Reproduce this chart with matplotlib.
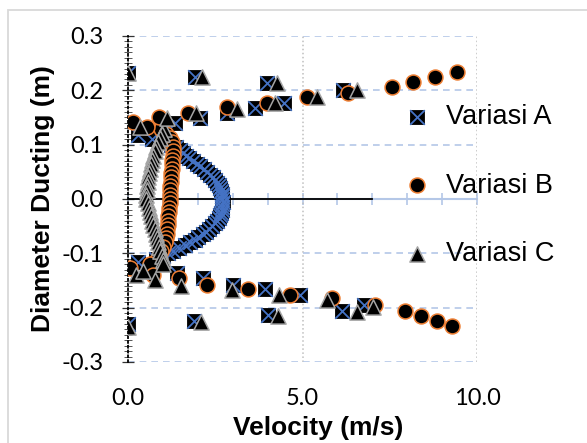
import matplotlib.pyplot as plt
from matplotlib.patches import Rectangle

plt.rcParams['axes.unicode_minus'] = False

# Variasi A - velocity profile (arc) and outer points
a_arc_dia = [0.110, 0.105, 0.100, 0.095, 0.090, 0.085, 0.080, 0.075, 0.070, 0.065,
             0.060, 0.055, 0.050, 0.045, 0.040, 0.035, 0.030, 0.025, 0.020, 0.015,
             0.010, 0.005, 0.000, -0.005, -0.010, -0.015, -0.020, -0.025, -0.030,
             -0.035, -0.040, -0.045, -0.050, -0.055, -0.060, -0.065, -0.070, -0.075,
             -0.080, -0.085, -0.090, -0.095, -0.100, -0.105, -0.110]
a_arc_vel = [0.70, 1.00, 1.22, 1.38, 1.48, 1.58, 1.66, 1.76, 1.86, 1.97,
             2.07, 2.17, 2.26, 2.35, 2.43, 2.50, 2.56, 2.61, 2.64, 2.67,
             2.69, 2.70, 2.70, 2.71, 2.70, 2.69, 2.68, 2.66, 2.64,
             2.60, 2.55, 2.48, 2.41, 2.33, 2.24, 2.14, 2.02, 1.91,
             1.78, 1.62, 1.46, 1.30, 1.15, 1.00, 0.80]
a_out_vel = [0.00, 1.92, 3.98, 6.16, 0.29, 1.35, 2.06, 2.83, 3.64, 4.47,
             0.00, 1.89, 4.01, 6.13, 0.29, 1.40, 2.15, 3.01, 3.93, 4.93, 6.76]
a_out_dia = [0.232, 0.225, 0.214, 0.200, 0.118, 0.140, 0.149, 0.158, 0.168, 0.177,
             -0.230, -0.225, -0.214, -0.206, -0.116, -0.136, -0.145, -0.158, -0.166,
             -0.177, -0.195]

# Variasi B
b_arc_dia = [0.128, 0.120, 0.112, 0.104, 0.096, 0.088, 0.080, 0.072, 0.064, 0.056,
             0.048, 0.040, 0.032, 0.024, 0.016, 0.008, 0.000, -0.008, -0.016, -0.024,
             -0.032, -0.040, -0.048, -0.056, -0.064, -0.072, -0.080, -0.088, -0.096,
             -0.104, -0.112, -0.120]
b_arc_vel = [0.95, 1.10, 1.20, 1.26, 1.29, 1.29, 1.28, 1.27, 1.26, 1.25,
             1.24, 1.23, 1.22, 1.21, 1.21, 1.20, 1.20, 1.19, 1.18, 1.17,
             1.16, 1.15, 1.14, 1.13, 1.12, 1.10, 1.05, 0.99, 0.94,
             0.90, 0.83, 0.63]
b_out_vel = [0.15, 0.55, 0.89, 1.72, 2.83, 3.98, 5.13, 6.30, 7.56, 8.17, 8.80, 9.43,
             0.06, 0.72, 1.46, 2.26, 3.44, 4.64, 5.85, 7.08, 7.94, 8.40, 8.85, 9.28]
b_out_dia = [0.141, 0.132, 0.151, 0.159, 0.169, 0.177, 0.188, 0.195, 0.206, 0.216,
             0.225, 0.234, -0.127, -0.139, -0.145, -0.158, -0.166, -0.177, -0.183,
             -0.195, -0.206, -0.215, -0.225, -0.234]

# Variasi C
c_arc_dia = b_arc_dia
c_arc_vel = [1.02, 0.98, 0.92, 0.86, 0.81, 0.76, 0.72, 0.68, 0.65, 0.62,
             0.60, 0.58, 0.56, 0.55, 0.54, 0.53, 0.53, 0.56, 0.60, 0.64,
             0.67, 0.70, 0.73, 0.76, 0.79, 0.82, 0.85, 0.88, 0.93,
             0.97, 0.99, 1.00]
c_out_vel = [0.00, 2.12, 4.27, 6.56, 0.34, 1.11, 1.95, 3.12, 4.21, 5.41,
             0.00, 2.09, 4.30, 6.56, 0.23, 0.43, 0.77, 1.52, 2.98, 4.33, 5.70, 7.02]
c_out_dia = [0.232, 0.225, 0.214, 0.200, 0.133, 0.149, 0.158, 0.166, 0.177, 0.188,
             -0.235, -0.227, -0.215, -0.208, -0.140, -0.133, -0.149, -0.160, -0.168,
             -0.177, -0.186, -0.198]

center_vel = [0.0, 7.0]
center_dia = [0.0, 0.0]

series_names = ["Variasi A", "Variasi B", "Variasi C"]
x_ticks = [0, 5, 10]
x_tick_labels = ["0.0", "5.0", "10.0"]
y_ticks = [-0.3, -0.2, -0.1, 0.0, 0.1, 0.2, 0.3]
y_tick_labels = ["-0.3", "-0.2", "-0.1", "0.0", "0.1", "0.2", "0.3"]

a_vel = a_arc_vel + a_out_vel
a_dia = a_arc_dia + a_out_dia
b_vel = b_arc_vel + b_out_vel
b_dia = b_arc_dia + b_out_dia
c_vel = c_arc_vel + c_out_vel
c_dia = c_arc_dia + c_out_dia

grid_blue = '#B4C7E7'

fig = plt.figure(figsize=(5.87, 4.43), dpi=100)
fig.add_artist(Rectangle((8 / 587, -0.1), 1.0, 1.1 - 10 / 443, transform=fig.transFigure,
                         fill=False, edgecolor='#D9D9D9', linewidth=1.3))
ax = fig.add_axes([128 / 587, 1 - 362 / 443, 349 / 587, 326 / 443])
ax.set_xlim(0, 10)
ax.set_ylim(-0.3, 0.3)
ax.set_axisbelow(True)

for side in ['top', 'right', 'bottom']:
    ax.spines[side].set_visible(False)
ax.spines['left'].set_linestyle(':')
ax.spines['left'].set_linewidth(1.3)
ax.spines['left'].set_color('black')

ax.set_yticks(y_ticks)
ax.set_yticklabels(y_tick_labels, family='Lato', fontsize=17)
ax.set_yticks([i / 100 for i in range(-30, 31)], minor=True)
ax.tick_params(axis='y', which='major', direction='inout', length=9, width=0.9,
               color='#333333', pad=13)
ax.tick_params(axis='y', which='minor', direction='inout', length=6, width=0.7,
               color='#555555')
ax.yaxis.grid(True, which='major', linestyle=(0, (4, 3)), color=grid_blue, linewidth=1.2)

ax.set_xticks(x_ticks)
ax.set_xticklabels(x_tick_labels, family='Lato', fontsize=17)
ax.tick_params(axis='x', length=0, pad=19)
ax.xaxis.grid(True, which='major', linestyle=':', color='#BFBFBF', linewidth=1.1)

# horizontal axis crossing at y = 0
sec = ax.secondary_xaxis(0.5)
sec.set_xticks(range(0, 11))
sec.set_xticklabels([])
sec.tick_params(direction='inout', length=8, width=1.2, color=grid_blue)
for side in ['top', 'bottom']:
    sec.spines[side].set_color(grid_blue)
    sec.spines[side].set_linewidth(1.5)

ax.plot(center_vel, center_dia, color='black', linewidth=1.3, zorder=2)

sq = ax.scatter(a_vel, a_dia, marker='s', s=110, c='black', edgecolors='black',
                linewidths=0.6, zorder=3)
xx = ax.scatter(a_vel, a_dia, marker='x', s=110, c='#4472C4', linewidths=1.3, zorder=3)
hb = ax.scatter(b_vel, b_dia, marker='o', s=115, c='black', edgecolors='#ED7D31',
                linewidths=1.1, zorder=4)
hc = ax.scatter(c_vel, c_dia, marker='^', s=120, c='black', edgecolors='#A5A5A5',
                linewidths=1.1, zorder=5)

ax.legend([(sq, xx), hb, hc], series_names, loc='upper left',
          bbox_to_anchor=(403 / 587, 1 - 104 / 443), bbox_transform=fig.transFigure,
          frameon=False, borderpad=0, borderaxespad=0, handlelength=1.0,
          handletextpad=0.6, labelspacing=1.57, scatterpoints=1,
          prop={'family': 'Liberation Sans', 'size': 19.5})

ax.set_xlabel('Velocity (m/s)', family='Liberation Sans', fontsize=19, fontweight='bold')
ax.xaxis.set_label_coords(0.544, -0.165)
ax.set_ylabel('Diameter Ducting (m)', family='Liberation Sans', fontsize=19,
              fontweight='bold')
ax.yaxis.set_label_coords(-0.21, 0.5)

fig.savefig('out.png', dpi=100)
